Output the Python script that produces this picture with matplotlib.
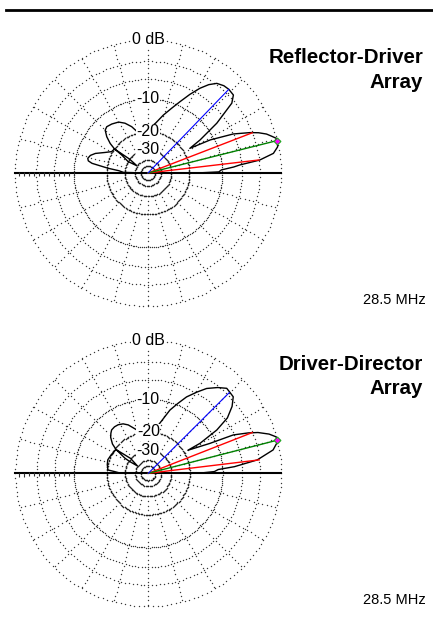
"""
Elevation patterns of two 2-element arrays (EZNEC style, ARRL log scale)
"""

import numpy as np
import matplotlib.pyplot as plt
from matplotlib.lines import Line2D

plt.rcParams['font.family'] = ['Liberation Sans', 'DejaVu Sans']

# grid rings (dB) and the angular spacing of their dots (deg)
ring_db = [0, -3, -6, -10, -20, -30, -40, -50]
ring_step = [2, 2, 2, 1.5, 2.2, 3.5, 6, 9]
label_db = [0, -10, -20, -30]
label_txt = ['0 dB', '-10', '-20', '-30']
spoke_deg = [a for a in range(15, 360, 15) if a != 180]

# --- Reflector-Driver array: elevation angle (deg) and gain (dB), in drawing order
rd_ang = [0, 0.2, 0.9, 2.4, 4, 5, 6.6, 8.9, 11.4, 13.3, 14, 15.1, 16.5, 18.2, 20,
          21.6, 24.6, 28, 30.5, 32.4, 35.9, 39.8, 42.4, 46, 49, 52.5, 55.5, 58.5,
          62, 65.8, 70, 75.2, 81, 87.4, 93, 99, 105.3, 109.4, 114.8, 120, 126.5,
          131.7, 135, 138.7, 142, 144.3, 145.6, 150, 147, 143, 144.3, 149.6, 154.7,
          159.6, 163, 166.3, 168.5, 170.2, 173.2, 175.5, 178.5, 180]
rd_db = [-60, -16, -10.8, -10.2, -7.5, -6.3, -2.9, -0.8, -0.1, 0, 0, 0, -0.5, -1.1,
         -2.1, -3.3, -6.0, -10.9, -17.3, -13.2, -7.7, -3.4, -2.4, -2.3, -2.4, -2.8,
         -3.7, -5.0, -6.9, -9.1, -11.3, -13.7, -16.5, -18.6, -20.5, -19.8, -19.2,
         -17.1, -15.2, -14.0, -13.4, -13.1, -13.5, -15.2, -17.5, -20.1, -24.5, -30,
         -40, -30, -20.1, -19.7, -17.5, -14.8, -13.6, -13.1, -13.4, -14.6, -20.5,
         -26, -29, -60]

# --- Driver-Director array
dd_ang = [0, 0.3, 1.5, 3.1, 4.4, 7, 10.6, 13.7, 15.9, 18, 20.4, 22, 24.3, 25.9,
          30.2, 30.1, 32.3, 35, 38.6, 42, 44.9, 47.3, 51, 55.5, 59, 63.4, 67,
          71.1, 78.3, 88, 99.2, 105, 112.5, 117, 121.8, 126, 130.2, 133, 136.3,
          140.7, 143.6, 147.2, 147.6, 146, 140, 143.6, 153.4, 161.6, 168, 175.3,
          177, 179, 180]
dd_db = [-60, -16, -12, -11, -7.4, -3.3, -0.8, 0, 0, -0.8, -2.2, -3.6, -6.1, -11.4,
         -18.3, -13.7, -8.5, -5.5, -3.7, -2.6, -2.5, -2.4, -3.2, -4.4, -5.8, -7.6,
         -9.6, -11.8, -17.1, -21, -20.2, -18.6, -16.0, -15.0, -14.5, -14.4, -14.6,
         -15.2, -16.1, -18.1, -20.6, -27, -31, -40, -30, -20.6, -20.0, -19.5, -19.8,
         -20.4, -23.4, -26, -60]

# cursor lines: max gain, -3 dB points, second lobe (angle deg, dB)
rd_peak = (14.1, 0.0)
rd_half = [(6.7, -3.0), (21.1, -3.0)]
rd_lobe2 = (46.0, -2.3)
dd_peak = (14.4, 0.0)
dd_half = [(6.9, -3.0), (21.4, -3.0)]
dd_lobe2 = (44.9, -2.6)

titles = ['Reflector-Driver\nArray', 'Driver-Director\nArray']
freq = '28.5 MHz'

W, H = 433, 642


def arrl(db):
    """ARRL log scale: radius drops by a factor 0.89 every 2 dB"""
    return 0.89 ** (-np.asarray(db, dtype=float) / 2.0)


def draw_panel(fig, cx, cy, R, ang, db, peak, half, lobe2):
    ax = fig.add_axes([(cx - R) / W, 1 - (cy + R) / H, 2 * R / W, 2 * R / H],
                      projection='polar')
    ax.set_axis_off()
    ax.set_ylim(0, 1)
    dot = dict(ls='none', marker='o', mew=0, clip_on=False)

    # dotted rings (inner ones are so dense they look dashed)
    for rdb, step in zip(ring_db, ring_step):
        th = np.deg2rad(np.arange(0, 360, step))
        inner = rdb <= -20
        ax.plot(th, np.full(th.size, arrl(rdb)), ms=1.15 if inner else 1.0,
                color='#202020' if inner else '#383838', **dot)

    # dotted spokes
    rs = np.arange(arrl(-30), 1.0, 0.034)
    for sd in spoke_deg:
        ax.plot(np.full(rs.size, np.deg2rad(sd)), rs, ms=1.0, color='#383838', **dot)

    # horizon with small ticks on the left half
    ax.plot([0, 0, np.pi, np.pi], [1, 0, 0, 1], color='black', lw=1.5, clip_on=False)
    rt = np.arange(arrl(-10), 1.0, 0.0376)
    ax.plot(np.full(rt.size, np.pi + 0.01), rt, ls='none', marker='|', ms=2.5,
            mew=0.8, color='#303030', clip_on=False)

    # pattern
    ax.plot(np.deg2rad(ang), arrl(db), color='black', lw=1.0, zorder=3, clip_on=False)

    # cursor lines
    for a, d in half:
        ax.plot([np.deg2rad(a)] * 2, [0, arrl(d)], color='#ff0000', lw=1.0, zorder=4)
    ax.plot([np.deg2rad(peak[0])] * 2, [0, arrl(peak[1])], color='#008000', lw=1.0, zorder=4)
    ax.plot([np.deg2rad(lobe2[0])] * 2, [0, arrl(lobe2[1])], color='#0000ff', lw=0.8, zorder=4)
    ax.plot(np.deg2rad(peak[0]), arrl(peak[1]), marker='D', ms=3.5, mfc='#ff00ff',
            mec='#22aa22', mew=0.8, zorder=5, clip_on=False)

    # ring labels
    for d, s in zip(label_db, label_txt):
        ax.text(np.pi / 2, arrl(d), s, ha='center', va='center', fontsize=11.5,
                zorder=6, bbox=dict(facecolor='white', edgecolor='none', pad=0.4))
    return ax


fig = plt.figure(figsize=(W / 100, H / 100), dpi=100)

fig.add_artist(Line2D([6 / W, 1], [1 - 10 / H] * 2, color='black', lw=2))

draw_panel(fig, 148, 173, 133, rd_ang, rd_db, rd_peak, rd_half, rd_lobe2)
draw_panel(fig, 148.3, 473.3, 133, dd_ang, dd_db, dd_peak, dd_half, dd_lobe2)

for title, y1, yf in zip(titles, [63.3, 370], [303.5, 604]):
    l1, l2 = title.split('\n')
    fig.text(423 / W, 1 - y1 / H, l1, ha='right', va='baseline', fontsize=14.8,
             fontweight='bold')
    fig.text(423 / W, 1 - (y1 + 24.5) / H, l2, ha='right', va='baseline', fontsize=14.8,
             fontweight='bold')
    fig.text(426 / W, 1 - yf / H, freq, ha='right', va='baseline', fontsize=10.5)

fig.savefig('out.png', dpi=100, facecolor='white')
